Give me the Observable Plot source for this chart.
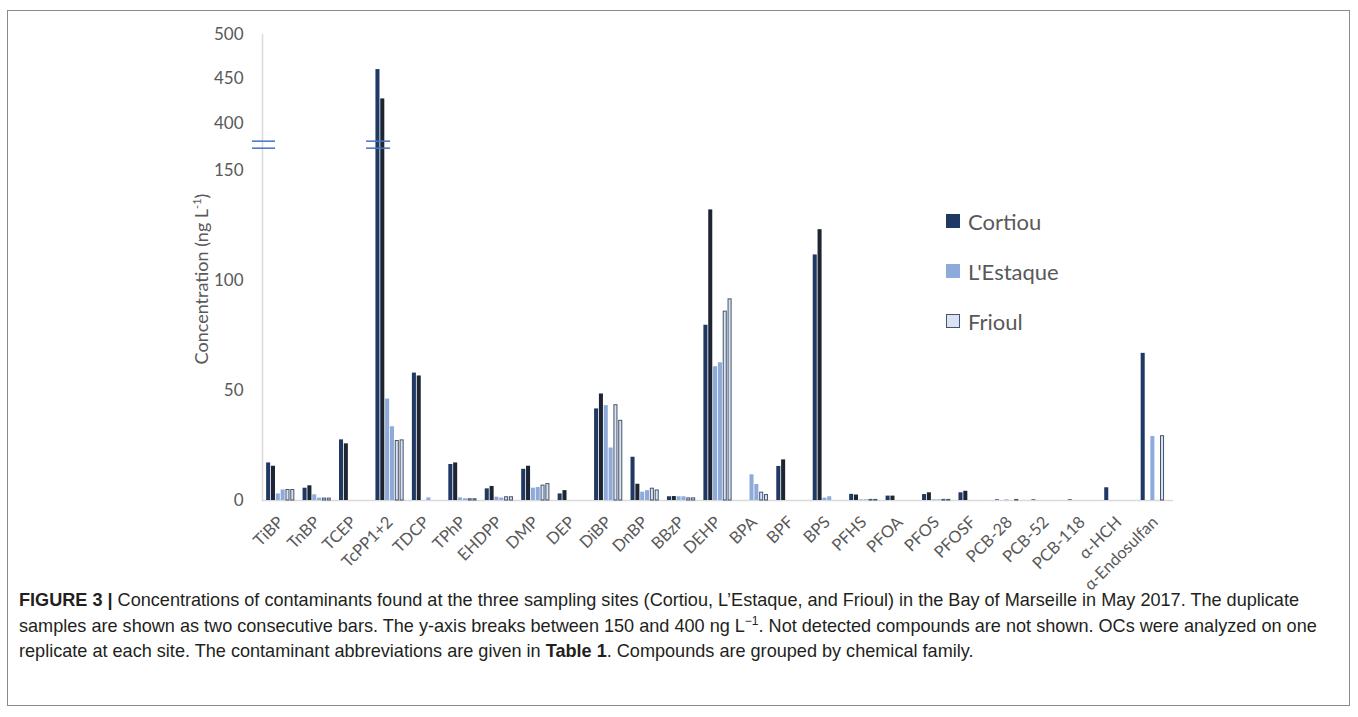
<!DOCTYPE html>
<html><head><meta charset="utf-8">
<script src="https://cdn.jsdelivr.net/npm/d3@7"></script>
<script src="https://cdn.jsdelivr.net/npm/@observablehq/plot@0.6"></script>
<style>
html,body{margin:0;padding:0;background:#fff}
body{width:1358px;height:717px;position:relative;overflow:hidden;font-family:Lato,sans-serif}
#box{position:absolute;left:7px;top:10px;width:1343px;height:696px;border:1.5px solid #8a8a8a;box-sizing:border-box}
#chart{position:absolute;left:0;top:0}
#chart svg{overflow:visible}
#chart text{fill:#595959}
#chart [aria-label^="fx-axis"] text{font-size:16.5px}
#chart [aria-label^="y-axis"] text{font-size:17px}
#ylabel{position:absolute;left:201px;top:279px;transform:translate(-50%,-50%) rotate(-90deg);font-family:Lato,sans-serif;font-size:18px;color:#595959;white-space:nowrap}
#ylabel sup{font-size:11px}
#legend{position:absolute;left:946px;top:196px;font-family:Lato,sans-serif;font-size:22px;color:#595959}
#legend .row{height:50px;display:flex;align-items:center}
#legend .sw{width:14px;height:14px;margin-right:8px;box-sizing:border-box}
#caption{position:absolute;left:19px;top:588px;font-family:"Liberation Sans",Arial,sans-serif;font-size:18.1px;line-height:25.5px;color:#231f20;white-space:nowrap}
#caption sup{font-size:12px;line-height:0}
</style></head>
<body>
<div id="box"></div>
<div id="chart"></div>
<div id="ylabel">Concentration (ng L<sup>-1</sup>)</div>
<div id="legend"></div>
<div id="caption">
<b>FIGURE 3 |</b> Concentrations of contaminants found at the three sampling sites (Cortiou, L’Estaque, and Frioul) in the Bay of Marseille in May 2017. The duplicate<br>
samples are shown as two consecutive bars. The y-axis breaks between 150 and 400 ng L<sup>−1</sup>. Not detected compounds are not shown. OCs were analyzed on one<br>
replicate at each site. The contaminant abbreviations are given in <b>Table 1</b>. Compounds are grouped by chemical family.
</div>
<script>
const compounds = ["TiBP","TnBP","TCEP","TcPP1+2","TDCP","TPhP","EHDPP","DMP","DEP","DiBP","DnBP","BBzP","DEHP","BPA","BPF","BPS","PFHS","PFOA","PFOS","PFOSF","PCB-28","PCB-52","PCB-118","α-HCH","α-Endosulfan"];
const seriesKeys = ["C1","C2","L1","L2","F1","F2"];
const siteNames = ["Cortiou","L'Estaque","Frioul"];
// ng/L, duplicate samples; 0 = not detected, null = not analysed
const cortiou1 = [17.1,5.6,27.6,460.5,58.0,16.4,5.3,14.2,3.0,41.7,19.7,1.7,79.8,0,15.5,111.8,2.8,2.0,2.7,3.5,0.3,0.3,0.3,5.8,67.0];
const cortiou2 = [15.6,6.7,25.8,427.5,56.7,17.1,6.4,15.6,4.5,48.5,7.4,1.8,132.3,0,18.5,123.3,2.5,2.0,3.5,4.2,null,null,null,null,null];
const estaque1 = [3.0,2.6,0,46.2,0,1.2,1.5,5.6,0,43.2,3.8,1.7,60.9,11.7,0,1.1,0.3,0,0.3,0,0.3,0,0,0,29.1];
const estaque2 = [4.8,1.1,0,33.6,1.2,0.8,1.1,5.9,0,23.9,4.5,1.7,62.7,7.3,0,1.7,0.3,0,0.3,0,null,null,null,null,null];
const frioul1 = [5.0,1.1,0,27.3,0,0.8,1.7,7.0,0,43.6,5.6,1.2,86.2,3.8,0,0,0.5,0,0.5,0,0.5,0,0,0,29.5];
const frioul2 = [5.0,1.1,0,27.6,0,0.8,1.7,7.7,0,36.5,4.8,1.2,91.8,2.7,0,0,0.5,0,0.5,0,null,null,null,null,null];
const yTicks = [0,50,100,150,400,450,500];
const yMax = 500;
const yBreak = [162,376];
const upperCompression = 0.4045;

const colors = ["#1f3864","#1e2532","#8eaadb","#8eaadb","#dae3f3","#dae3f3"];
const frioulStroke = "#44546a";
const breakColor = "#4472c4";
const gridGray = "#d9d9d9";

const brk = v => v <= yBreak[0] ? v : yBreak[0] + (v - yBreak[1]) * upperCompression;
const tickLabel = new Map(yTicks.map(t => [brk(t), String(t)]));

const seriesValues = [cortiou1,cortiou2,estaque1,estaque2,frioul1,frioul2];
const rows = [];
compounds.forEach((c,i)=>{
  seriesKeys.forEach((s,j)=>{
    const v = seriesValues[j][i];
    rows.push({compound:c, series:s, value:v, display: v == null ? null : brk(v)});
  });
});
const has = d => d.value != null && d.value > 0;
const breakMark = (comp, dy, l, r) => Plot.tickY(rows, {filter: d => d.compound === comp && d.series === "C1", x: "series", y: () => yBreak[0], dy, stroke: breakColor, strokeWidth: 1.5, insetLeft: l, insetRight: r});

const chart = Plot.plot({
  width: 1358, height: 590,
  marginLeft: 262, marginRight: 185, marginTop: 34, marginBottom: 90,
  style: {color: gridGray, background: "transparent", fontFamily: "Lato, sans-serif", fontSize: "16px", overflow: "visible"},
  facet: {data: rows, x: "compound"},
  fx: {domain: compounds, padding: 0, round: false, tickRotate: -45, tickSize: 0, tickPadding: 19, label: null},
  x: {domain: seriesKeys, paddingInner: 0, paddingOuter: 0.77, round: false, axis: null},
  y: {domain: [0, brk(yMax)], ticks: yTicks.map(brk), tickFormat: t => tickLabel.get(t) ?? "", tickSize: 0, tickPadding: 19, label: null},
  color: {domain: seriesKeys, range: colors},
  marks: [
    Plot.frame({facet: "super", anchor: "left", stroke: gridGray, strokeWidth: 1.5}),
    Plot.ruleY(rows, {filter: d => d.series === "C1", y: () => 0, stroke: gridGray, strokeWidth: 1.5}),
    Plot.barY(rows, {filter: d => has(d) && d.series[0] !== "F", x: "series", y: "display", fill: "series", insetLeft: 0.4, insetRight: 0.4}),
    Plot.barY(rows, {filter: d => has(d) && d.series[0] === "F", x: "series", y: "display", fill: "series", stroke: frioulStroke, strokeWidth: 1, insetLeft: 0.9, insetRight: 0.9, insetTop: 0.5}),
    breakMark("TiBP", -3.5, -13.7, -4.5),
    breakMark("TiBP", 3.5, -13.7, -4.5),
    breakMark("TcPP1+2", -3.5, -9, -10.2),
    breakMark("TcPP1+2", 3.5, -9, -10.2)
  ]
});
document.getElementById("chart").appendChild(chart);

const legend = document.getElementById("legend");
const legendFill = [colors[0], colors[2], colors[4]];
siteNames.forEach((n,i)=>{
  const row = document.createElement("div"); row.className = "row";
  const sw = document.createElement("div"); sw.className = "sw";
  sw.style.background = legendFill[i];
  if (i === 2) sw.style.border = "1.5px solid " + frioulStroke;
  const t = document.createElement("span"); t.textContent = n;
  row.appendChild(sw); row.appendChild(t); legend.appendChild(row);
});
</script>
</body></html>
